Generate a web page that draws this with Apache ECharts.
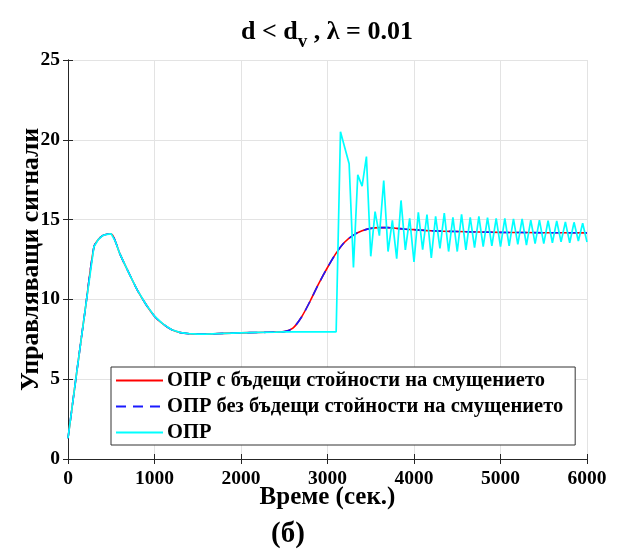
<!DOCTYPE html>
<html>
<head>
<meta charset="utf-8">
<script src="https://cdn.jsdelivr.net/npm/echarts@6/dist/echarts.min.js"></script>
<style>html,body{margin:0;padding:0;background:#fff}#c{width:625px;height:551px}</style>
</head>
<body>
<div id="c"></div>
<script>
// Smooth responses (red: with future disturbance values, blue: without)
const smoothT = [0,100,200,300,350,400,450,500,550,600,700,800,900,1000,1100,1200,1300,1400,1500,1600,1800,2000,2200,2400,2500,2600,2700,2800,2900,3000,3100,3200,3300,3400,3500,3600,3700,3800,3900,4000,4200,4500,5000,5500,6000];
const redV    = [1.3,5.4,9.4,13.3,13.75,14.0,14.08,14.1,13.6,12.85,11.7,10.6,9.7,8.95,8.45,8.1,7.92,7.85,7.83,7.83,7.87,7.9,7.93,7.95,7.98,8.2,8.9,9.9,11.0,12.0,12.9,13.6,14.03,14.3,14.45,14.5,14.5,14.45,14.4,14.37,14.3,14.25,14.2,14.18,14.17];
const blueV   = [1.3,5.4,9.4,13.3,13.75,14.0,14.08,14.1,13.6,12.85,11.7,10.6,9.7,8.95,8.45,8.1,7.92,7.85,7.83,7.83,7.87,7.9,7.93,7.95,7.98,8.2,8.9,9.9,11.0,12.0,12.9,13.6,14.03,14.3,14.45,14.5,14.5,14.45,14.4,14.37,14.3,14.25,14.2,14.18,14.17];
// ОПР (cyan)
const cyanT = [0,100,200,300,350,400,450,500,550,600,700,800,900,1000,1100,1200,1300,1400,1500,1600,1800,2000,2200,2400,2500,2600,2800,3000,3100,
  3150,3200,3250,3300,3350,3400,3450,3500,3550,3600,3650,3700,3750,3800,3850,3900,3950,4000,
  4050,4100,4150,4200,4250,4300,4350,4400,4450,4500,4550,4600,4650,4700,4750,4800,4850,4900,4950,5000,
  5050,5100,5150,5200,5250,5300,5350,5400,5450,5500,5550,5600,5650,5700,5750,5800,5850,5900,5950,6000];
const cyanV = [1.3,5.4,9.4,13.3,13.75,14.0,14.08,14.1,13.6,12.85,11.7,10.6,9.7,8.95,8.45,8.1,7.92,7.85,7.83,7.83,7.87,7.9,7.93,7.95,7.97,7.97,7.97,7.97,7.97,
  20.5,19.5,18.5,12.0,17.8,17.1,18.95,12.7,15.5,14.0,17.45,13.0,14.95,12.55,16.2,13.1,15.08,12.35,
  15.45,13.12,15.32,12.6,15.2,13.2,15.4,13.0,15.14,13.0,15.33,13.1,15.14,13.24,15.2,13.3,15.12,13.35,15.08,13.3,
  15.08,13.35,15.04,13.45,15.04,13.4,14.97,13.5,14.97,13.5,14.93,13.55,14.91,13.6,14.85,13.55,14.83,13.66,14.77,13.6];

const xTicks = [0,1000,2000,3000,4000,5000,6000];
const yTicks = [0,5,10,15,20,25];
const legendNames = ['ОПР с бъдещи стойности на смущението','ОПР без бъдещи стойности на смущението','ОПР'];

const pairs = (t, v) => t.map((x, i) => [x, v[i]]);
const FONT = 'Liberation Serif';
const AX = '#262626';

const chart = echarts.init(document.getElementById('c'));
chart.setOption({
  animation: false,
  backgroundColor: '#fff',
  title: [{
    text: '{a|d < d}{s|v}{a| , λ = 0.01}',
    left: 322, top: 12, textAlign: 'center',
    textStyle: {
      rich: {
        a: {fontFamily: FONT, fontWeight: 'bold', fontSize: 26, color: '#000', lineHeight: 30},
        s: {fontFamily: FONT, fontWeight: 'bold', fontSize: 19, color: '#000', padding: [20, 0, 0, 0], lineHeight: 30}
      }
    }
  }, {
    text: '(б)', left: 283, top: 515, textAlign: 'center',
    textStyle: {fontFamily: FONT, fontWeight: 'bold', fontSize: 29, color: '#000'}
  }],
  grid: {left: 68, right: 38, top: 60, bottom: 92, show: false, outerBoundsMode: 'none', containLabel: false},
  legend: {
    orient: 'vertical', left: 111, top: 367,
    data: legendNames,
    itemWidth: 47, itemHeight: 14, itemGap: 5,
    padding: [3, 12, 2, 4],
    itemStyle: {opacity: 0},
    backgroundColor: '#fff', borderColor: '#333', borderWidth: 1,
    textStyle: {fontFamily: FONT, fontWeight: 'bold', fontSize: 20.5, lineHeight: 20, color: '#000', padding: [0, 0, 0, -1]}
  },
  xAxis: [{
    type: 'value', min: 0, max: 6000, interval: 1000,
    name: 'Време (сек.)', nameLocation: 'middle', nameGap: 26, nameMoveOverlap: false,
    nameTextStyle: {fontFamily: FONT, fontWeight: 'bold', fontSize: 25, color: '#000', verticalAlign: 'top'},
    axisLine: {show: true, lineStyle: {color: AX, width: 1}},
    axisTick: {show: true, inside: true, length: 5, lineStyle: {color: AX}},
    axisLabel: {fontFamily: FONT, fontWeight: 'bold', fontSize: 19.5, color: '#000', margin: 10,
      formatter: v => xTicks.includes(v) ? String(v) : ''},
    splitLine: {show: true, lineStyle: {color: '#e3e3e3', width: 1}}
  }, {
    type: 'value', min: 0, max: 6000, interval: 1000, position: 'top',
    axisLine: {show: true, lineStyle: {color: AX, width: 1}},
    axisTick: {show: true, inside: true, length: 5, lineStyle: {color: AX}},
    axisLabel: {show: false}, splitLine: {show: false}
  }],
  yAxis: [{
    type: 'value', min: 0, max: 25, interval: 5,
    name: 'Управляващи сигнали', nameLocation: 'middle', nameGap: 24, nameMoveOverlap: false,
    nameTextStyle: {fontFamily: FONT, fontWeight: 'bold', fontSize: 25.5, color: '#000'},
    axisLine: {show: true, lineStyle: {color: AX, width: 1}},
    axisTick: {show: true, inside: true, length: 5, lineStyle: {color: AX}},
    axisLabel: {fontFamily: FONT, fontWeight: 'bold', fontSize: 19.5, color: '#000', margin: 8,
      formatter: v => yTicks.includes(v) ? String(v) : ''},
    splitLine: {show: true, lineStyle: {color: '#e3e3e3', width: 1}}
  }, {
    type: 'value', min: 0, max: 25, interval: 5, position: 'right',
    axisLine: {show: true, lineStyle: {color: AX, width: 1}},
    axisTick: {show: true, inside: true, length: 5, lineStyle: {color: AX}},
    axisLabel: {show: false}, splitLine: {show: false}
  }],
  series: [{
    name: legendNames[0], type: 'line', xAxisIndex: 0, yAxisIndex: 0,
    data: pairs(smoothT, redV), symbol: 'none', smooth: 0.3,
    lineStyle: {color: '#ff0000', width: 1.6}, itemStyle: {color: '#ff0000'}, z: 2
  }, {
    name: legendNames[1], type: 'line', xAxisIndex: 0, yAxisIndex: 0,
    data: pairs(smoothT, blueV), symbol: 'none', smooth: 0.3,
    lineStyle: {color: '#1a1aff', width: 1.6, type: [10, 7]}, itemStyle: {color: '#1a1aff'}, z: 3
  }, {
    name: legendNames[2], type: 'line', xAxisIndex: 0, yAxisIndex: 0,
    data: pairs(cyanT, cyanV), symbol: 'none',
    lineStyle: {color: '#00ffff', width: 1.7}, itemStyle: {color: '#00ffff'}, z: 4
  }]
});
</script>
</body>
</html>
